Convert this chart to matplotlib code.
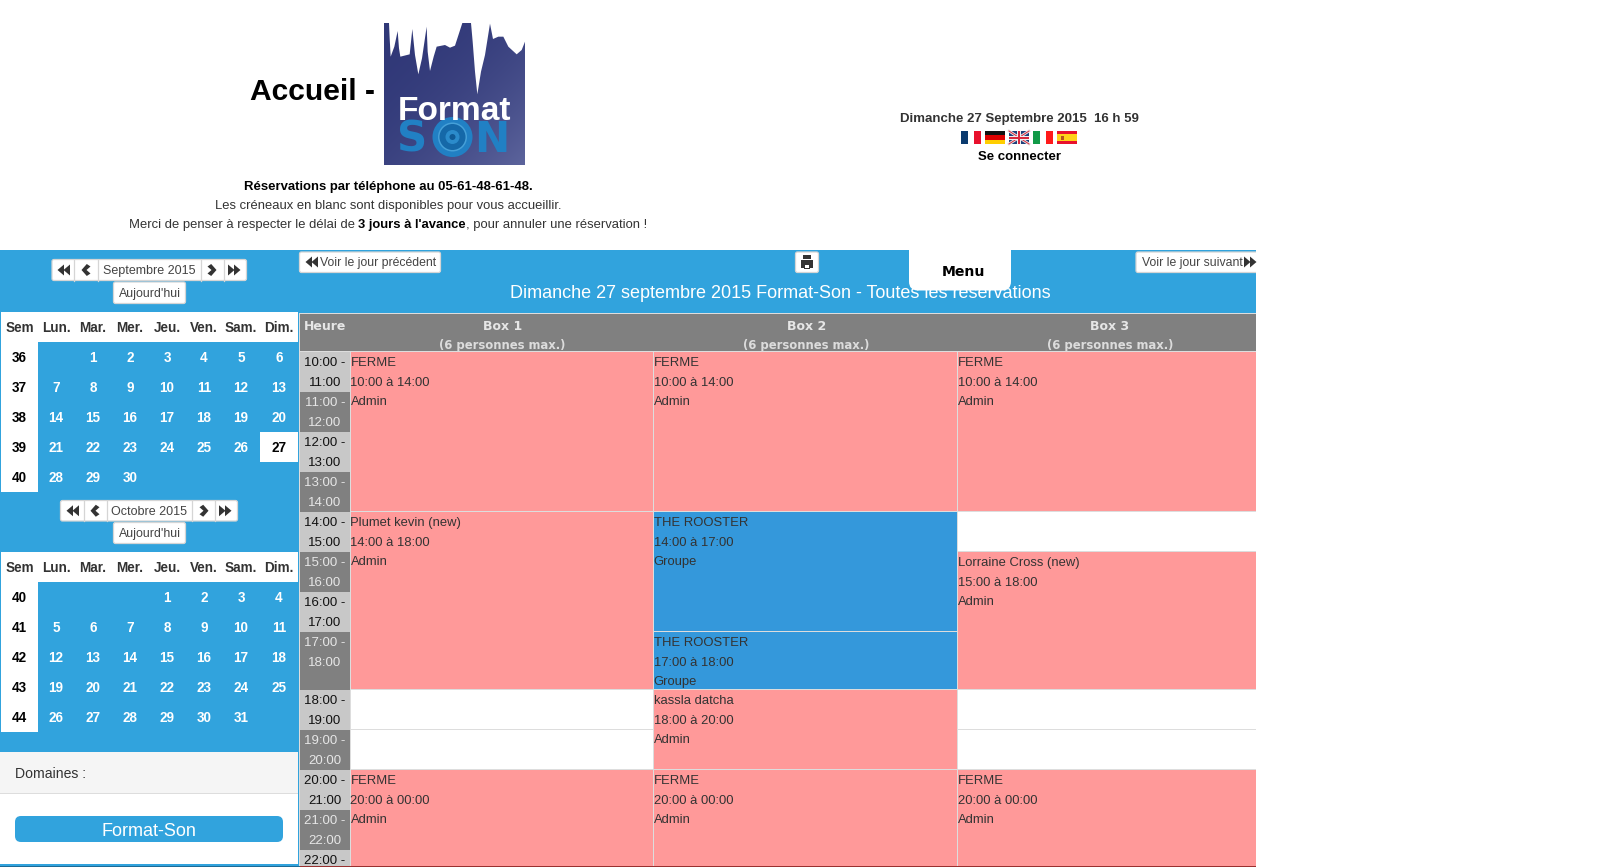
import numpy as np
import matplotlib
matplotlib.use("Agg")
import matplotlib.pyplot as plt
from matplotlib.patches import Rectangle, FancyBboxPatch, Polygon, Circle

plt.rcParams['font.family'] = ['Liberation Sans', 'DejaVu Sans']

# --- page content ---
heading = "Accueil -"
phone_line = "Réservations par téléphone au 05-61-48-61-48."
info_line = "Les créneaux en blanc sont disponibles pour vous accueillir."
notice_runs = [("Merci de penser à respecter le délai de ", False),
               ("3 jours à l'avance", True),
               (", pour annuler une réservation !", False)]
now_line = "Dimanche 27 Septembre 2015  16 h 59"
login_label = "Se connecter"
menu_label = "Menu"
day_title = "Dimanche 27 septembre 2015 Format-Son - Toutes les réservations"
prev_label = "Voir le jour précédent"
next_label = "Voir le jour suivant"
today_label = "Aujourd'hui"

week_header = ["Lun.", "Mar.", "Mer.", "Jeu.", "Ven.", "Sam.", "Dim."]

sep_title = "Septembre 2015"
sep_weeks = [36, 37, 38, 39, 40]
sep_days = [["", 1, 2, 3, 4, 5, 6],
            [7, 8, 9, 10, 11, 12, 13],
            [14, 15, 16, 17, 18, 19, 20],
            [21, 22, 23, 24, 25, 26, 27],
            [28, 29, 30, "", "", "", ""]]

oct_title = "Octobre 2015"
oct_weeks = [40, 41, 42, 43, 44]
oct_days = [["", "", "", 1, 2, 3, 4],
            [5, 6, 7, 8, 9, 10, 11],
            [12, 13, 14, 15, 16, 17, 18],
            [19, 20, 21, 22, 23, 24, 25],
            [26, 27, 28, 29, 30, 31, ""]]

domain_label = "Domaines :"
domain_name = "Format-Son"

box_names = ["Box 1", "Box 2", "Box 3"]
box_capacity = "(6 personnes max.)"
hours = [10, 11, 12, 13, 14, 15, 16, 17, 18, 19, 20, 21, 22]

# box index, name, start hour, end hour, last line, kind
bookings = [(0, "FERME", 10, 14, "Admin", "closed"),
            (1, "FERME", 10, 14, "Admin", "closed"),
            (2, "FERME", 10, 14, "Admin", "closed"),
            (0, "Plumet kevin (new)", 14, 18, "Admin", "closed"),
            (1, "THE ROOSTER", 14, 17, "Groupe", "group"),
            (1, "THE ROOSTER", 17, 18, "Groupe", "group"),
            (2, "Lorraine Cross (new)", 15, 18, "Admin", "closed"),
            (1, "kassla datcha", 18, 20, "Admin", "closed"),
            (0, "FERME", 20, 24, "Admin", "closed"),
            (1, "FERME", 20, 24, "Admin", "closed"),
            (2, "FERME", 20, 24, "Admin", "closed")]

# --- layout, in screen pixels ---
BLUE = '#31a3dd'
PINK = '#ff9999'
GROUP = '#3498db'
GRAY = '#808080'
LIGHT = '#c8c8c8'
LINE = '#dddddd'
INK = '#333333'
PAGE_RIGHT = 1256
BOTTOM = 866
hour_edges = [352, 392, 432, 472, 512, 552, 592, 632, 690, 730, 770, 810, 850, 890]
box_edges = [350, 653, 957, PAGE_RIGHT]
box_centers = [502.5, 806.5, 1110]
day_centers = [56, 93, 130, 167, 204, 241, 279]

fig = plt.figure(figsize=(16.14, 8.67), dpi=100)
ax = fig.add_axes([0, 0, 1, 1])
ax.set_xlim(0, 1614)
ax.set_ylim(867, 0)
ax.axis('off')


def px(size):
    # font size in pixels -> points
    return size * 0.72


def box(x0, y0, x1, y1, color, z=1):
    ax.add_patch(Rectangle((x0, y0), x1 - x0, y1 - y0, facecolor=color,
                           edgecolor='none', antialiased=False, zorder=z))


def label(x, y, s, size=13, color=INK, bold=False, ha='center', z=5, family=None):
    kw = {'family': family} if family else {}
    return ax.text(x, y + 1, s, fontsize=px(size), color=color, ha=ha, va='center',
                   fontweight='bold' if bold else 'normal', zorder=z, **kw)


def button(x0, y0, x1, y1, radius=2, z=3):
    ax.add_patch(FancyBboxPatch((x0, y0), x1 - x0, y1 - y0,
                                boxstyle=f"round,pad=0,rounding_size={radius}",
                                facecolor='white', edgecolor='#d5d5d5', linewidth=0.9, zorder=z))


def chevron(cx, cy, direction, w=4.5, h=6, color=INK, z=5):
    # direction -1 points left, +1 points right
    d = direction
    pts = [(cx + d * w, cy), (cx - d * 0.8, cy - h), (cx - d * w, cy - h + 2.5),
           (cx - d * 0.5, cy), (cx - d * w, cy + h - 2.5), (cx - d * 0.8, cy + h)]
    ax.add_patch(Polygon(pts, closed=True, facecolor=color, edgecolor='none', zorder=z))


def double_arrow(cx, cy, direction, color=INK, z=5):
    for off in (-3, 3):
        x = cx + off
        ax.add_patch(Polygon([(x + direction * 3.5, cy), (x - direction * 3, cy - 5.5),
                              (x - direction * 3, cy + 5.5)],
                             closed=True, facecolor=color, edgecolor='none', zorder=z))


def month_nav(title, x0, x1, dividers, y0, y1, today_y0, today_y1, icons):
    button(x0, y0, x1, y1)
    for d in dividers:
        ax.plot([d, d], [y0, y1], color='#d5d5d5', lw=0.9, zorder=4)
    cy = (y0 + y1) / 2
    label(149, cy, title, 12.5, '#444444')
    double_arrow(icons[0], cy, -1)
    chevron(icons[1], cy, -1)
    chevron(icons[2], cy, 1)
    double_arrow(icons[3], cy, 1)
    button(113.5, today_y0, 185.5, today_y1)
    label(149.5, (today_y0 + today_y1) / 2, today_label, 12.4, '#444444')


def month_table(top, weeks, days):
    box(1, top, 298, top + 30, 'white', 2)
    box(1, top + 30, 38, top + 180, 'white', 2)
    label(19.5, top + 15, "Sem", 13.5, INK, True)
    for cx, name in zip(day_centers, week_header):
        label(cx, top + 15, name, 13.5, INK, True)
    for r, (wk, row) in enumerate(zip(weeks, days)):
        cy = top + 45 + r * 30
        label(19, cy, str(wk), 13.5, 'black', True)
        for cx, d in zip(day_centers, row):
            if d == "":
                continue
            is_today = days is sep_days and d == 27
            if is_today:
                box(260, cy - 15, 298, cy + 15, 'white', 2)
            label(cx, cy, str(d), 13.5, 'black' if is_today else 'white', True)


# --- blue page background ---
box(0, 250, PAGE_RIGHT, BOTTOM, BLUE, 0)

# --- header ---
label(250, 91, heading, 30, 'black', True, ha='left')
label(388, 186, phone_line, 13.1, 'black', True)
label(388, 205, info_line, 13, INK)

renderer = fig.canvas.get_renderer()
widths = []
for s, b in notice_runs:
    t = label(0, 0, s, 13, 'black' if b else INK, b, ha='left')
    # trailing spaces are not measured, so measure with a guard character
    t.set_text(s + ".")
    w = t.get_window_extent(renderer).width
    t.set_text(".")
    w -= t.get_window_extent(renderer).width
    t.remove()
    widths.append(w)
xpos = 388 - sum(widths) / 2
for (s, b), w in zip(notice_runs, widths):
    label(xpos, 224, s, 13, 'black' if b else INK, b, ha='left')
    xpos += w

# logo: gradient square with the white skyline on top
gx, gy = np.meshgrid(np.linspace(0, 1, 40), np.linspace(0, 1, 40))
shade = (gx + gy) / 2
rgb = np.dstack([0.19 + 0.17 * shade ** 2, 0.22 + 0.17 * shade ** 2, 0.47 + 0.14 * shade ** 2])
ax.imshow(rgb, extent=(384, 525, 165, 23), aspect='auto', zorder=1, interpolation='bilinear')
ax.set_xlim(0, 1614)
ax.set_ylim(867, 0)
sky = [(42, 24), (44, 70), (47, 125), (58, 95), (68, 48), (72, 100), (76, 125), (104, 118),
       (112, 42), (120, 120), (130, 178), (141, 130), (155, 35), (158, 110), (165, 168),
       (176, 125), (185, 95), (210, 90), (225, 98), (240, 92), (252, 55), (262, 24), (288, 24),
       (293, 80), (300, 170), (307, 238), (318, 170), (330, 120), (345, 26), (354, 72),
       (370, 65), (385, 65), (400, 95), (425, 118), (440, 105), (450, 80), (450, 24)]
sky_pts = [(375 + sx / 3, 15 + sy / 3) for sx, sy in sky]
ax.add_patch(Polygon(sky_pts, closed=True, facecolor='white', edgecolor='none', zorder=2))
LOGO_BLUE = '#2180c4'
label(454.5, 111, "Format", 33.5, 'white', True, z=6)
label(412.5, 139, "S", 42, LOGO_BLUE, True, family='DejaVu Sans')
label(492, 139, "N", 42, LOGO_BLUE, True, family='DejaVu Sans')
for rad, col in [(20, LOGO_BLUE), (14.5, '#46a0d8'), (13, '#1568a8'), (7, '#2b8bcb'), (3, '#0f5a96')]:
    ax.add_patch(Circle((452.5, 137), rad, facecolor=col, edgecolor='none', zorder=4))

# date, flags, login
label(1019, 118, now_line, 13.3, INK, True)
fy0, fy1 = 131, 144
for x0, cols in [(961, ['#0a3a6e', 'white', '#e8112d']), (1033, ['#119a48', 'white', '#ff1a1a'])]:
    for i, c in enumerate(cols):
        box(x0 + i * 20 / 3, fy0, x0 + (i + 1) * 20 / 3, fy1, c, 2)
for i, c in enumerate(['#111111', '#dd0000', '#ffce00']):
    box(985, fy0 + i * 13 / 3, 1005, fy0 + (i + 1) * 13 / 3, c, 2)
box(1057, fy0, 1077, fy1, '#e8112d', 2)
box(1057, fy0 + 3, 1077, fy1 - 3, '#ffd21a', 3)
box(1061, fy0 + 5, 1064, fy1 - 4, '#b5541c', 4)
box(1009, fy0, 1029, fy1, '#1f3f7a', 2)
ax.plot([1009, 1029], [fy0, fy1], color='#e8e8e8', lw=2, zorder=3)
ax.plot([1009, 1029], [fy1, fy0], color='#e8e8e8', lw=2, zorder=3)
ax.plot([1009, 1029], [fy0, fy1], color='#d8283c', lw=0.7, zorder=3)
ax.plot([1009, 1029], [fy1, fy0], color='#d8283c', lw=0.7, zorder=3)
box(1009, fy0 + 4.5, 1029, fy1 - 4.5, '#f0f0f0', 3)
box(1017, fy0, 1021, fy1, '#f0f0f0', 3)
box(1009, fy0 + 5.5, 1029, fy1 - 5.5, '#d8283c', 4)
box(1018, fy0, 1020, fy1, '#d8283c', 4)
label(1019.5, 156.5, login_label, 13.2, 'black', True)

# --- top bar of the planning ---
label(780, 293, day_title, 18, 'white', z=2)
button(299.5, 252, 440.5, 272.5)
double_arrow(312, 262, -1)
label(320, 262, prev_label, 12.2, '#444444', ha='left')
button(795.5, 252, 818.5, 272.5)
box(801, 260, 813, 268, INK, 5)
box(803, 255, 811, 259, INK, 5)
box(804, 264, 810, 269, INK, 5)
box(805, 265, 809, 268, 'white', 6)
ax.add_patch(FancyBboxPatch((909, 240), 102, 50.5, boxstyle="round,pad=0,rounding_size=9",
                            facecolor='white', edgecolor='none', zorder=3))
ax.add_patch(Rectangle((905, 235), 110, 15, facecolor='white', edgecolor='none', zorder=3))
label(963, 271, menu_label, 14, 'black', True, family='DejaVu Sans')
ax.add_patch(FancyBboxPatch((1136, 252), 130, 20.5, boxstyle="round,pad=0,rounding_size=2",
                            facecolor='white', edgecolor='#d5d5d5', linewidth=0.9, zorder=3))
label(1142, 262, next_label, 12.2, '#444444', ha='left')
double_arrow(1250, 262, 1)
box(PAGE_RIGHT, 245, 1290, 280, 'white', 4)

# --- mini calendars ---
month_nav(sep_title, 52, 246.5, [74, 97.5, 200.5, 223.5], 259.5, 280.5, 282, 303.5,
          [64, 86, 212, 234])
month_table(312, sep_weeks, sep_days)
month_nav(oct_title, 60.5, 237.5, [83.5, 106.5, 191.5, 214.5], 500.5, 521, 522.5, 543.5,
          [73, 95, 204, 225])
month_table(552, oct_weeks, oct_days)

# --- domain panel ---
box(0, 752, 298, 864, 'white', 1)
box(0, 752, 298, 793, '#f5f5f5', 2)
box(0, 793, 298, 794, LINE, 2)
label(15, 773, domain_label, 14, INK, ha='left')
ax.add_patch(FancyBboxPatch((15, 816), 268, 26, boxstyle="round,pad=0,rounding_size=6",
                            facecolor=BLUE, edgecolor='none', zorder=3))
label(149, 830.5, domain_name, 18, 'white')

# --- planning table ---
box(299, 313, PAGE_RIGHT, BOTTOM, LINE, 1)
box(300, 314, PAGE_RIGHT, 351, GRAY, 2)
label(325, 325, "Heure", 12.5, '#e6e6e6', True, family='DejaVu Sans')
for cx, name in zip(box_centers, box_names):
    label(cx, 325, name, 12.5, '#e6e6e6', True, family='DejaVu Sans')
    label(cx, 344, box_capacity, 11.6, '#dcdcdc', True, family='DejaVu Sans')

# time column and empty slots
for i, h in enumerate(hours):
    y0, y1 = hour_edges[i], min(hour_edges[i + 1], BOTTOM)
    dark = i % 2 == 1
    box(300, y0, 350, y1, GRAY if dark else LIGHT, 2)
    col = '#e6e6e6' if dark else '#111111'
    label(325, y0 + 10, f"{h}:00 -", 13.2, col)
    if i + 1 < len(hours):
        label(325, y0 + 30, f"{h + 1}:00", 13.2, col)
    for k in range(3):
        box(box_edges[k] + 1, y0, box_edges[k + 1], y1 - 1, 'white', 2)

# reservations
for col, name, start, end, who, kind in bookings:
    y0 = hour_edges[hours.index(start)]
    y1 = 890 if end == 24 else hour_edges[hours.index(end)]
    x0 = box_edges[col] + 1
    x1 = box_edges[col + 1]
    box(x0, y0, x1, min(y1 - 1, BOTTOM), PINK if kind == "closed" else GROUP, 3)
    lines = [name, f"{start}:00 à {end % 24:02d}:00", who]
    for off, s in zip((10, 29.5, 49), lines):
        label(x0 - 0.5, y0 + off, s, 13, INK, ha='left')

# the screenshot is cut right below the table
box(300, BOTTOM, PAGE_RIGHT, 867, '#99302f', 6)
box(0, BOTTOM, 300, 867, '#1d6a94', 6)

fig.savefig('out.png', dpi=100)
